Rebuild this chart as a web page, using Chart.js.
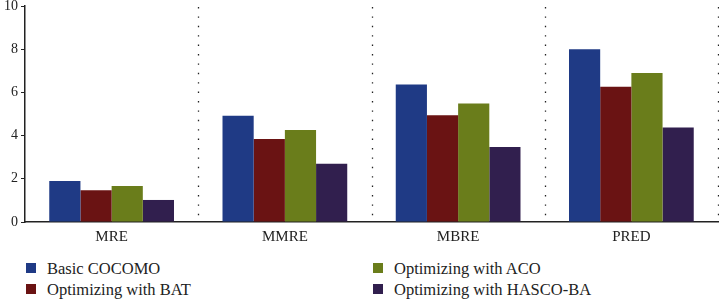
<!DOCTYPE html>
<html>
<head>
<meta charset="utf-8">
<script src="https://cdn.jsdelivr.net/npm/chart.js@4/dist/chart.umd.min.js"></script>
<style>
  html, body { margin: 0; padding: 0; background: #fff; }
  #wrap { position: relative; width: 719px; height: 299px; overflow: hidden; }
  #chartBox { position: absolute; left: 0; top: 0; width: 719px; height: 250px; }
  .legend { position: absolute; font-family: "Liberation Serif", "DejaVu Serif", serif; font-size: 16.5px; line-height: 19px; color: #222; white-space: nowrap; }
  .legend span.box { position: absolute; left: 0; top: 4px; width: 10px; height: 10px; }
  .legend span.txt { position: absolute; left: 21px; top: 0; }
</style>
</head>
<body>
<div id="wrap">
  <div id="chartBox"><canvas id="myChart" width="719" height="250"></canvas></div>
  <div id="legend"></div>
</div>
<script>
const categories = ["MRE", "MMRE", "MBRE", "PRED"];
const seriesNames = ["Basic COCOMO", "Optimizing with BAT", "Optimizing with ACO", "Optimizing with HASCO-BA"];
const basicCocomo = [1.9, 4.92, 6.37, 8.0];
const withBat = [1.47, 3.84, 4.94, 6.26];
const withAco = [1.67, 4.26, 5.49, 6.9];
const withHasco = [1.02, 2.7, 3.47, 4.37];
const yTicks = [0, 2, 4, 6, 8, 10];
const colors = ["#1f3a85", "#6a1313", "#6a7d1b", "#311f4e"];

const seriesValues = [basicCocomo, withBat, withAco, withHasco];

const ctx = document.getElementById('myChart');
new Chart(ctx, {
    type: 'bar',
    data: {
        labels: categories,
        datasets: seriesNames.map((name, i) => ({
            label: name,
            data: seriesValues[i],
            backgroundColor: colors[i],
            borderWidth: 0,
            categoryPercentage: 0.72,
            barPercentage: 1.0
        }))
    },
    options: {
        responsive: false,
        animation: false,
        layout: { padding: { top: 0, right: 1, left: 0, bottom: 0 } },
        plugins: {
            legend: { display: false },
            tooltip: { enabled: false }
        },
        scales: {
            x: {
                grid: { display: false, drawTicks: false },
                border: { display: true, color: '#222', width: 1.5 },
                ticks: {
                    color: '#222',
                    padding: 6,
                    font: { family: 'Liberation Serif', size: 15 }
                },
                afterFit: function(scale) { scale.height = 28; }
            },
            y: {
                min: 0,
                max: 10,
                afterBuildTicks: function(scale) { scale.ticks = yTicks.map(v => ({ value: v })); },
                grid: {
                    drawOnChartArea: false,
                    color: '#222',
                    tickLength: 4
                },
                border: { display: true, color: '#222', width: 1.5 },
                ticks: {
                    color: '#222',
                    padding: 3,
                    font: { family: 'Liberation Serif', size: 14 }
                },
                afterFit: function(scale) {
                    scale.width = 25;
                    scale.paddingTop = 6;
                }
            }
        }
    },
    plugins: [{
        id: 'dottedGrid',
        beforeDatasetsDraw(chart) {
            // dotted separators between categories
            const c = chart.ctx;
            const area = chart.chartArea;
            const x = chart.scales.x;
            c.save();
            c.strokeStyle = '#222';
            c.lineWidth = 1.3;
            c.setLineDash([1.4, 8]);
            for (let i = 1; i <= categories.length; i++) {
                const px = Math.round(x.getPixelForValue(i - 0.5)) + 0.5;
                c.beginPath();
                c.moveTo(px, area.top + 1);
                c.lineTo(px, area.bottom);
                c.stroke();
            }
            c.restore();
        }
    }]
});

// two column legend, filled column by column
const legendEl = document.getElementById('legend');
const legendPos = [[26, 259], [26, 280], [373, 259], [373, 280]];
seriesNames.forEach((name, i) => {
    const d = document.createElement('div');
    d.className = 'legend';
    d.style.left = legendPos[i][0] + 'px';
    d.style.top = legendPos[i][1] + 'px';
    d.innerHTML = '<span class="box" style="background:' + colors[i] + '"></span><span class="txt">' + name + '</span>';
    legendEl.appendChild(d);
});
</script>
</body>
</html>
